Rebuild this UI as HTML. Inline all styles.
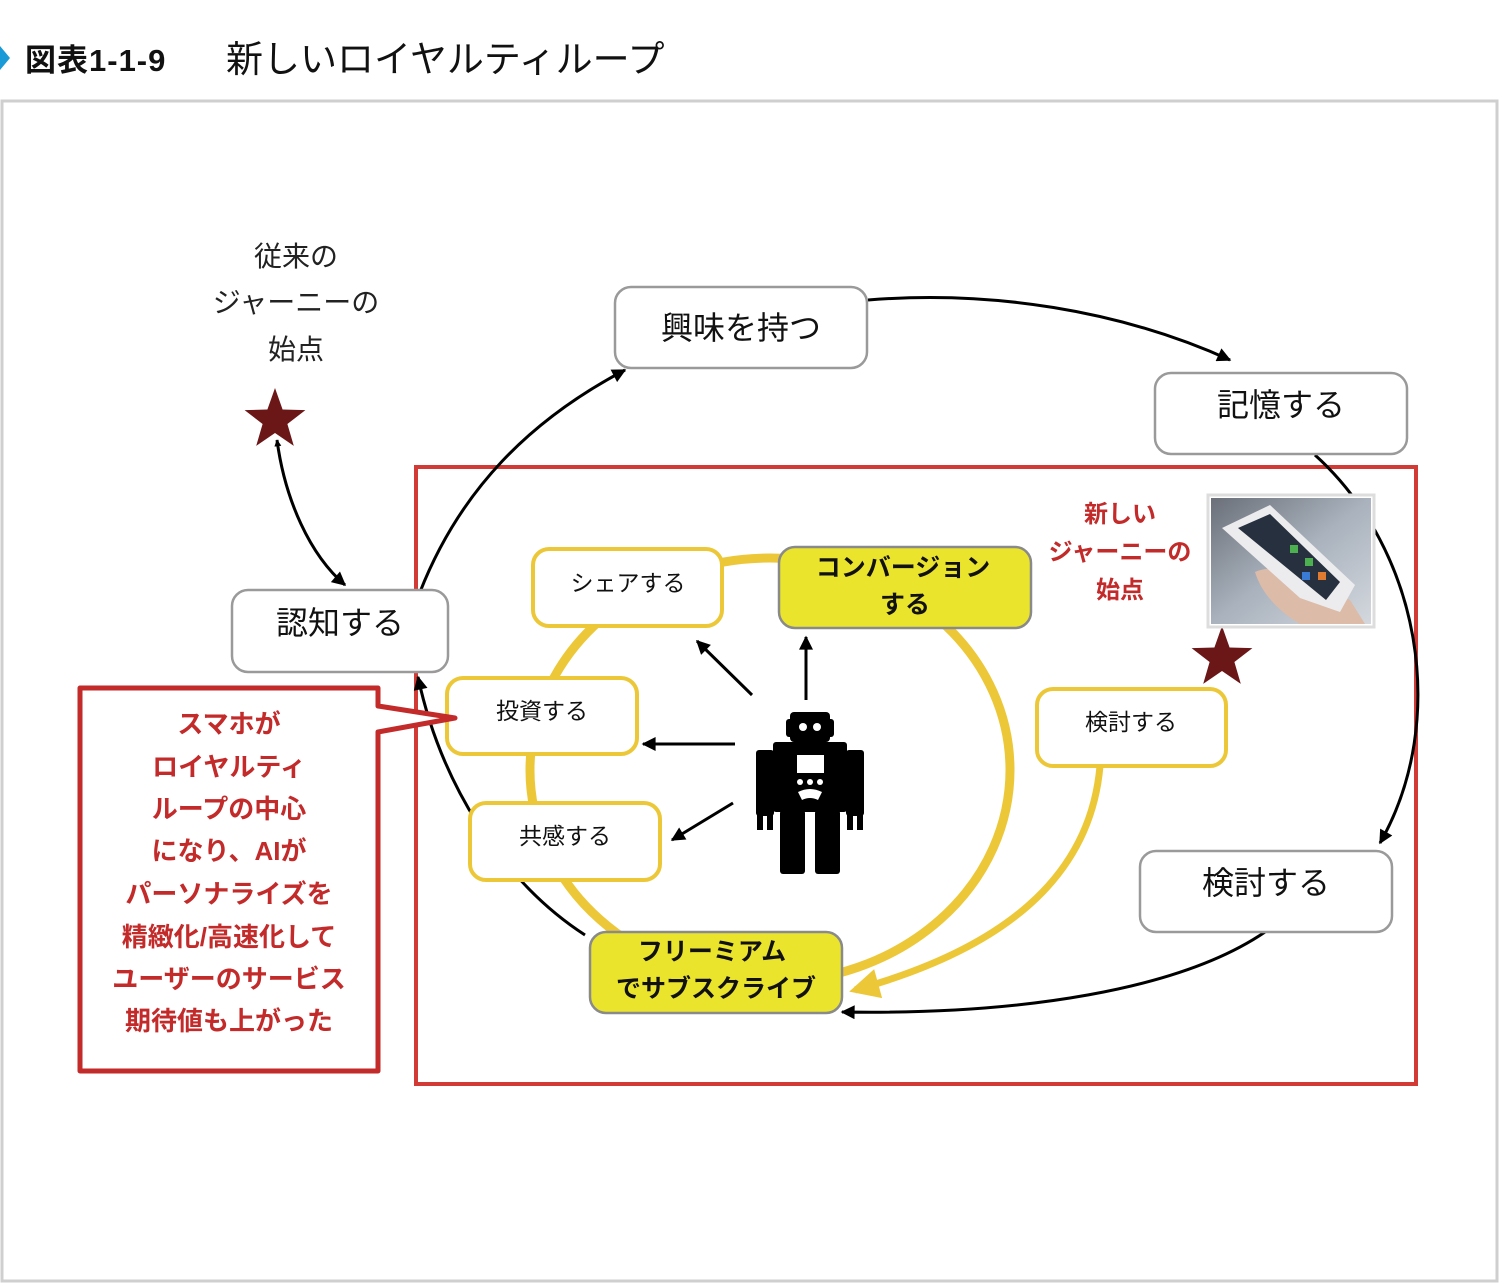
<!DOCTYPE html>
<html><head><meta charset="utf-8"><style>
html,body{margin:0;padding:0;background:#fff;}
svg{display:block;font-family:"Liberation Sans","Noto Sans CJK JP",sans-serif;}
</style></head><body>
<svg width="1500" height="1284" viewBox="0 0 1500 1284" xmlns="http://www.w3.org/2000/svg">
<defs>
<marker id="ah" viewBox="0 0 10 10" refX="9" refY="5" markerWidth="7" markerHeight="7" orient="auto-start-reverse" markerUnits="userSpaceOnUse"><path d="M0,0 L10,5 L0,10 z" fill="#000"/></marker>
<marker id="ab" viewBox="0 0 10 10" refX="9" refY="5" markerWidth="18" markerHeight="14" orient="auto" markerUnits="userSpaceOnUse"><path d="M0,0 L10,5 L0,10 z" fill="#000"/></marker>
<marker id="ay" viewBox="0 0 10 10" refX="8" refY="5" markerWidth="34" markerHeight="30" orient="auto" markerUnits="userSpaceOnUse"><path d="M0,0 L10,5 L0,10 z" fill="#ecc838"/></marker>
<linearGradient id="ph" x1="0" y1="0" x2="1" y2="1"><stop offset="0" stop-color="#6a6f78"/><stop offset="0.5" stop-color="#a9b2bd"/><stop offset="1" stop-color="#d4d8de"/></linearGradient>
</defs>
<!-- title -->
<polygon points="0,46 10,58 0,70" fill="#1a9ad6"/>
<text x="25" y="71" font-size="31" font-weight="bold" fill="#111" letter-spacing="1">図表1-1-9</text>
<text x="226" y="72" font-size="37" fill="#111">新しいロイヤルティループ</text>
<!-- frame -->
<rect x="2" y="101" width="1495" height="1180" fill="none" stroke="#cfcfcf" stroke-width="3"/>
<!-- red rect -->
<rect x="416" y="467" width="1000" height="617" fill="none" stroke="#d23a36" stroke-width="4"/>
<!-- yellow ring -->
<ellipse cx="770" cy="770" rx="240" ry="212" fill="none" stroke="#ecc838" stroke-width="9"/>
<path d="M1100,766 C1090,880 1000,950 855,990" fill="none" stroke="#ecc838" stroke-width="7" marker-end="url(#ay)"/>
<!-- black loop -->
<g fill="none" stroke="#000" stroke-width="3">
<path d="M420,592 C460,490 530,420 625,370" marker-end="url(#ab)"/>
<path d="M868,300 C990,290 1120,310 1230,360" marker-end="url(#ab)"/>
<path d="M1315,455 C1420,550 1450,720 1380,843" marker-end="url(#ab)"/>
<path d="M1265,932 C1180,990 1020,1015 842,1012" marker-end="url(#ab)"/>
<path d="M585,935 C500,880 440,780 418,677" marker-end="url(#ab)"/>
<path d="M277,440 C285,500 310,555 345,585" marker-end="url(#ab)" marker-start="url(#ah)"/>
</g>
<!-- robot arrows -->
<g stroke="#000" stroke-width="3" fill="none">
<path d="M752,695 L697,641" marker-end="url(#ab)"/>
<path d="M806,700 L806,637" marker-end="url(#ab)"/>
<path d="M735,744 L643,744" marker-end="url(#ab)"/>
<path d="M733,803 L672,840" marker-end="url(#ab)"/>
</g>
<!-- gray boxes -->
<g fill="#fff" stroke="#9a9a9a" stroke-width="2.5">
<rect x="615" y="287" width="252" height="81" rx="16"/>
<rect x="1155" y="373" width="252" height="81" rx="16"/>
<rect x="232" y="590" width="216" height="82" rx="16"/>
<rect x="1140" y="851" width="252" height="81" rx="16"/>
</g>
<g font-size="32" fill="#111" text-anchor="middle">
<text x="741" y="339">興味を持つ</text>
<text x="1281" y="416">記憶する</text>
<text x="340" y="634">認知する</text>
<text x="1266" y="894">検討する</text>
</g>
<!-- yellow boxes -->
<g fill="#fff" stroke="#ecc838" stroke-width="4">
<rect x="533" y="549" width="189" height="77" rx="16"/>
<rect x="447" y="678" width="190" height="76" rx="16"/>
<rect x="470" y="803" width="190" height="77" rx="16"/>
<rect x="1037" y="689" width="189" height="77" rx="16"/>
</g>
<g font-size="23" fill="#111" text-anchor="middle">
<text x="628" y="591">シェアする</text>
<text x="542" y="719">投資する</text>
<text x="565" y="844">共感する</text>
<text x="1131" y="730">検討する</text>
</g>
<g fill="#ebe42c" stroke="#8a8a8a" stroke-width="2.5">
<rect x="779" y="547" width="252" height="81" rx="16"/>
<rect x="590" y="932" width="252" height="81" rx="16"/>
</g>
<g font-size="25" font-weight="bold" fill="#111" text-anchor="middle">
<text x="903" y="576">コンバージョン</text>
<text x="905" y="613">する</text>
<text x="712" y="960">フリーミアム</text>
<text x="716" y="997">でサブスクライブ</text>
</g>
<!-- old start text -->
<g font-size="28" fill="#222" text-anchor="middle">
<text x="296" y="266">従来の</text>
<text x="296" y="312">ジャーニーの</text>
<text x="296" y="359">始点</text>
</g>
<g font-size="24" font-weight="bold" fill="#c32a2a" text-anchor="middle">
<text x="1120" y="522">新しい</text>
<text x="1120" y="560">ジャーニーの</text>
<text x="1120" y="598">始点</text>
</g>
<!-- stars -->
<g fill="#6b1717">
<polygon transform="translate(275,420)" points="0,-32 7.6,-10.5 30.4,-9.9 12.4,4 18.8,25.9 0,13 -18.8,25.9 -12.4,4 -30.4,-9.9 -7.6,-10.5"/>
<polygon transform="translate(1222,658)" points="0,-32 7.6,-10.5 30.4,-9.9 12.4,4 18.8,25.9 0,13 -18.8,25.9 -12.4,4 -30.4,-9.9 -7.6,-10.5"/>
</g>
<!-- phone image -->
<rect x="1208" y="495" width="166" height="132" fill="#fff" stroke="#ddd" stroke-width="3"/>
<rect x="1211" y="498" width="160" height="126" fill="url(#ph)"/>
<path d="M1255,572 C1280,560 1320,585 1350,600 L1365,624 L1300,624 C1280,612 1262,595 1255,572 z" fill="#dcbba8"/>
<polygon points="1222,528 1270,505 1355,585 1340,612 1300,598" fill="#ececee"/>
<polygon points="1238,528 1270,514 1340,582 1326,600" fill="#26303e"/>
<g><rect x="1290" y="545" width="8" height="8" fill="#4caf50"/><rect x="1305" y="558" width="8" height="8" fill="#4caf50"/><rect x="1318" y="572" width="8" height="8" fill="#e07a30"/><rect x="1302" y="572" width="8" height="8" fill="#3a7bd5"/></g>
<!-- robot -->
<g fill="#000">
<rect x="790" y="712" width="40" height="30" rx="4"/>
<rect x="786" y="719" width="48" height="18" rx="3"/>
<rect x="773" y="742" width="74" height="70" rx="3"/>
<rect x="756" y="750" width="18" height="66" rx="3"/>
<rect x="846" y="750" width="18" height="66" rx="3"/>
<rect x="757" y="814" width="6" height="16"/><rect x="767" y="814" width="6" height="16"/>
<rect x="847" y="814" width="6" height="16"/><rect x="857" y="814" width="6" height="16"/>
<rect x="780" y="810" width="25" height="64" rx="3"/>
<rect x="815" y="810" width="25" height="64" rx="3"/>
</g>
<g fill="#fff">
<circle cx="803" cy="727" r="4"/><circle cx="817" cy="727" r="4"/>
<rect x="797" y="755" width="27" height="18"/>
<circle cx="800" cy="782" r="3"/><circle cx="810" cy="782" r="3"/><circle cx="820" cy="782" r="3"/>
<path d="M798,792 Q810,786 822,792 L818,800 Q810,796 802,800 z"/>
<rect x="805" y="812" width="10" height="62"/>
</g>
<!-- callout -->
<path d="M80,688 L378,688 L378,706 L455,718 L378,732 L378,1071 L80,1071 z" fill="#fff" stroke="#c32a2a" stroke-width="5" stroke-linejoin="round"/>
<g font-size="26" font-weight="bold" fill="#c32a2a" text-anchor="middle">
<text x="229" y="733">スマホが</text>
<text x="229" y="776">ロイヤルティ</text>
<text x="229" y="818">ループの中心</text>
<text x="229" y="860">になり、AIが</text>
<text x="229" y="903">パーソナライズを</text>
<text x="229" y="946">精緻化/高速化して</text>
<text x="229" y="988">ユーザーのサービス</text>
<text x="229" y="1030">期待値も上がった</text>
</g>
</svg>
</body></html>
